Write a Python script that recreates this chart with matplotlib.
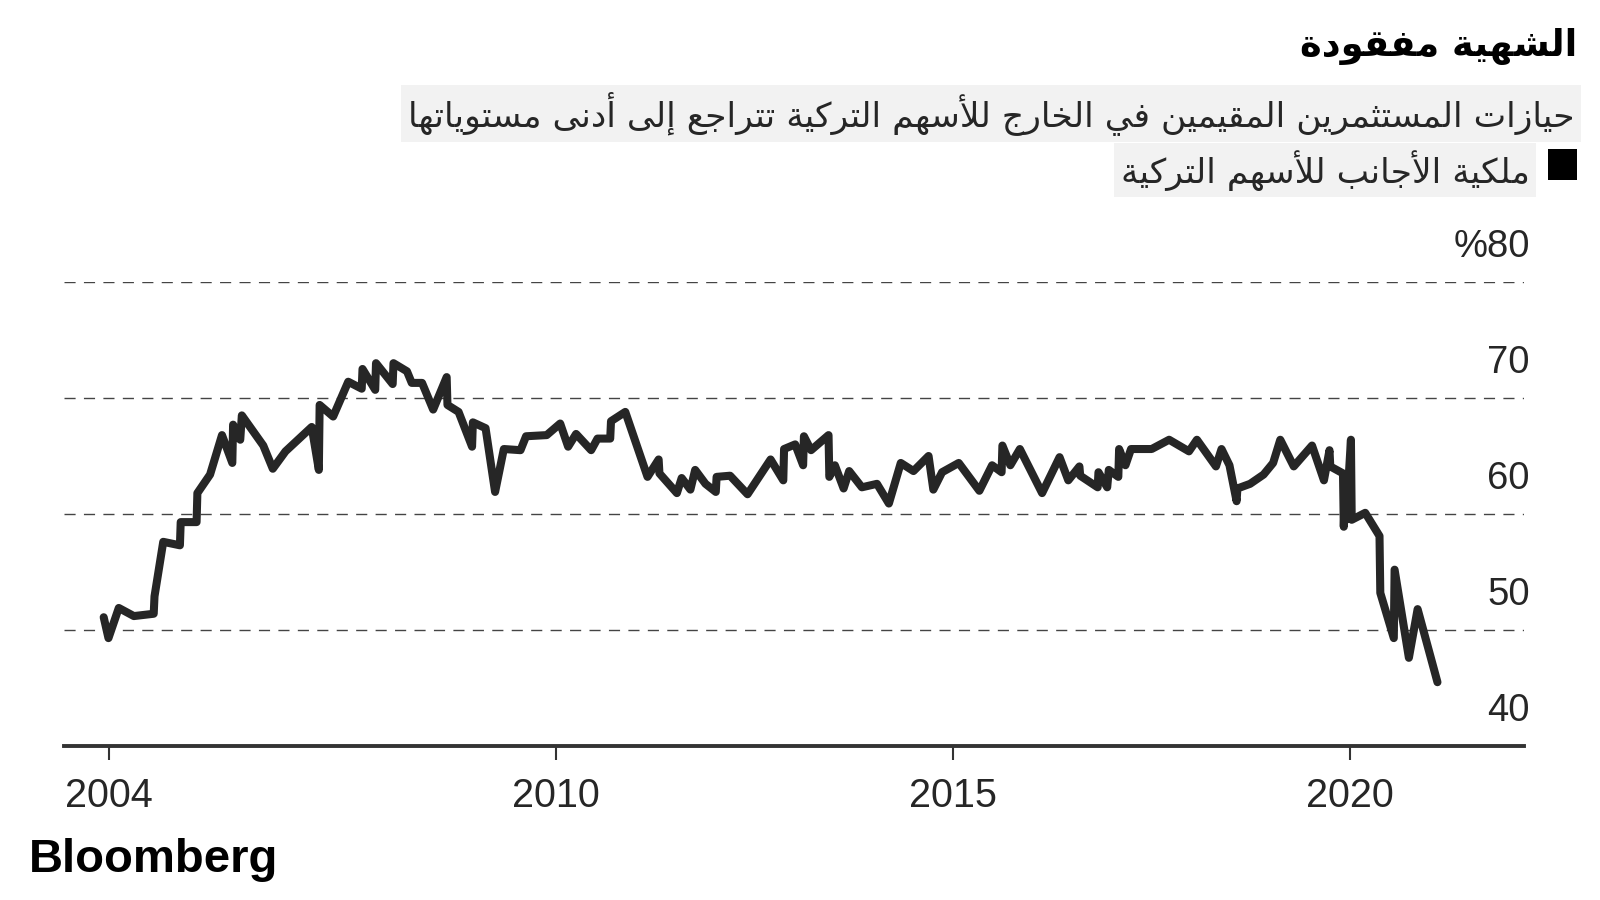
import matplotlib
matplotlib.use("Agg")
import matplotlib.pyplot as plt
from matplotlib.patches import Rectangle

# --- dane ---
years = [
    2004.30, 2004.36, 2004.49, 2004.68, 2004.93, 2004.94, 2005.05, 2005.26, 2005.27, 2005.47,
    2005.48, 2005.64, 2005.79, 2005.92, 2005.93, 2006.02, 2006.04, 2006.31, 2006.43, 2006.59,
    2006.92, 2007.01, 2007.02, 2007.19, 2007.38, 2007.55, 2007.56, 2007.72, 2007.73, 2007.94,
    2007.95, 2008.12, 2008.18, 2008.31, 2008.45, 2008.62, 2008.63, 2008.77, 2008.85, 2008.94,
    2008.95, 2009.11, 2009.23, 2009.34, 2009.55, 2009.62, 2009.88, 2010.05, 2010.15, 2010.25,
    2010.44, 2010.52, 2010.68, 2010.69, 2010.87, 2011.15, 2011.29, 2011.30, 2011.52, 2011.58,
    2011.69, 2011.75, 2011.88, 2012.01, 2012.02, 2012.19, 2012.41, 2012.70, 2012.86, 2012.87,
    2013.01, 2013.11, 2013.12, 2013.21, 2013.43, 2013.44, 2013.51, 2013.62, 2013.69, 2013.85,
    2014.04, 2014.19, 2014.34, 2014.50, 2014.69, 2014.75, 2014.86, 2015.07, 2015.33, 2015.49,
    2015.61, 2015.62, 2015.72, 2015.84, 2016.12, 2016.34, 2016.45, 2016.59, 2016.60, 2016.82,
    2016.83, 2016.94, 2016.96, 2017.08, 2017.09, 2017.17, 2017.24, 2017.50, 2017.72, 2017.97,
    2018.07, 2018.31, 2018.38, 2018.48, 2018.57, 2018.58, 2018.74, 2018.91, 2019.03, 2019.12,
    2019.29, 2019.52, 2019.67, 2019.74, 2019.75, 2019.91, 2019.92, 2019.94, 2019.95, 2020.01,
    2020.02, 2020.19, 2020.37, 2020.38, 2020.55, 2020.56, 2020.74, 2020.85, 2021.10,
]
ownership = [
    51.1, 49.3, 51.9, 51.2, 51.4, 52.9, 57.6, 57.3, 59.3, 59.3,
    61.8, 63.4, 66.8, 64.4, 67.7, 66.4, 68.5, 65.9, 63.9, 65.4,
    67.5, 63.8, 69.4, 68.4, 71.4, 70.8, 72.5, 70.7, 73.0, 71.2,
    73.0, 72.3, 71.3, 71.3, 69.0, 71.8, 69.4, 68.8, 67.4, 65.8,
    67.9, 67.4, 61.9, 65.6, 65.5, 66.7, 66.8, 67.8, 65.8, 66.9,
    65.5, 66.5, 66.5, 68.0, 68.8, 63.2, 64.7, 63.5, 61.8, 63.1,
    62.1, 63.8, 62.6, 61.9, 63.2, 63.3, 61.7, 64.7, 62.9, 65.6,
    66.0, 64.2, 66.7, 65.5, 66.8, 63.2, 64.2, 62.2, 63.7, 62.3,
    62.6, 60.9, 64.4, 63.7, 65.0, 62.1, 63.6, 64.4, 62.0, 64.2,
    63.6, 65.9, 64.2, 65.6, 61.8, 64.9, 62.9, 64.1, 63.3, 62.3,
    63.6, 62.3, 63.8, 63.2, 65.6, 64.2, 65.6, 65.6, 66.4, 65.4,
    66.4, 64.1, 65.6, 64.2, 61.1, 62.2, 62.6, 63.4, 64.4, 66.4,
    64.1, 65.9, 62.9, 65.5, 64.1, 63.5, 58.9, 63.0, 59.5, 66.4,
    59.5, 60.1, 58.1, 53.2, 49.3, 55.2, 47.6, 51.8, 45.5,
]
y_ticks = [40, 50, 60, 70, 80]
y_labels = ["40", "50", "60", "70", "%80"]
x_ticks = [2004.37, 2010, 2015, 2020]
x_labels = ["2004", "2010", "2015", "2020"]

title = "الشهية مفقودة"
subtitle = "حيازات المستثمرين المقيمين في الخارج للأسهم التركية تتراجع إلى أدنى مستوياتها"
legend_label = "ملكية الأجانب للأسهم التركية"

# --- kształtowanie arabskiego (matplotlib nie łączy liter sam) ---
FORMS = {
    "ء": (0xFE80,), "آ": (0xFE81, 0xFE82), "أ": (0xFE83, 0xFE84), "ؤ": (0xFE85, 0xFE86),
    "إ": (0xFE87, 0xFE88), "ئ": (0xFE89, 0xFE8A, 0xFE8B, 0xFE8C), "ا": (0xFE8D, 0xFE8E),
    "ب": (0xFE8F, 0xFE90, 0xFE91, 0xFE92), "ة": (0xFE93, 0xFE94),
    "ت": (0xFE95, 0xFE96, 0xFE97, 0xFE98), "ث": (0xFE99, 0xFE9A, 0xFE9B, 0xFE9C),
    "ج": (0xFE9D, 0xFE9E, 0xFE9F, 0xFEA0), "ح": (0xFEA1, 0xFEA2, 0xFEA3, 0xFEA4),
    "خ": (0xFEA5, 0xFEA6, 0xFEA7, 0xFEA8), "د": (0xFEA9, 0xFEAA), "ذ": (0xFEAB, 0xFEAC),
    "ر": (0xFEAD, 0xFEAE), "ز": (0xFEAF, 0xFEB0),
    "س": (0xFEB1, 0xFEB2, 0xFEB3, 0xFEB4), "ش": (0xFEB5, 0xFEB6, 0xFEB7, 0xFEB8),
    "ص": (0xFEB9, 0xFEBA, 0xFEBB, 0xFEBC), "ض": (0xFEBD, 0xFEBE, 0xFEBF, 0xFEC0),
    "ط": (0xFEC1, 0xFEC2, 0xFEC3, 0xFEC4), "ظ": (0xFEC5, 0xFEC6, 0xFEC7, 0xFEC8),
    "ع": (0xFEC9, 0xFECA, 0xFECB, 0xFECC), "غ": (0xFECD, 0xFECE, 0xFECF, 0xFED0),
    "ف": (0xFED1, 0xFED2, 0xFED3, 0xFED4), "ق": (0xFED5, 0xFED6, 0xFED7, 0xFED8),
    "ك": (0xFED9, 0xFEDA, 0xFEDB, 0xFEDC), "ل": (0xFEDD, 0xFEDE, 0xFEDF, 0xFEE0),
    "م": (0xFEE1, 0xFEE2, 0xFEE3, 0xFEE4), "ن": (0xFEE5, 0xFEE6, 0xFEE7, 0xFEE8),
    "ه": (0xFEE9, 0xFEEA, 0xFEEB, 0xFEEC), "و": (0xFEED, 0xFEEE),
    "ى": (0xFEEF, 0xFEF0), "ي": (0xFEF1, 0xFEF2, 0xFEF3, 0xFEF4),
}
LAM_ALEF = {"آ": (0xFEF5, 0xFEF6), "أ": (0xFEF7, 0xFEF8), "إ": (0xFEF9, 0xFEFA), "ا": (0xFEFB, 0xFEFC)}


def arabic(text):
    tokens = []
    i = 0
    while i < len(text):
        c = text[i]
        if c == "ل" and i + 1 < len(text) and text[i + 1] in LAM_ALEF:
            tokens.append(LAM_ALEF[text[i + 1]])
            i += 2
        else:
            tokens.append(FORMS.get(c, c))
            i += 1
    out = []
    for k, t in enumerate(tokens):
        if isinstance(t, str):
            out.append(t)
            continue
        prev = tokens[k - 1] if k > 0 else None
        nxt = tokens[k + 1] if k + 1 < len(tokens) else None
        j_prev = isinstance(prev, tuple) and len(prev) == 4 and len(t) > 1
        j_next = len(t) == 4 and isinstance(nxt, tuple)
        if j_prev and j_next:
            cp = t[3]
        elif j_prev:
            cp = t[1]
        elif j_next:
            cp = t[2]
        else:
            cp = t[0]
        out.append(chr(cp))
    return "".join(reversed(out))


ARAB = ["DejaVu Sans"]
NUM = ["Liberation Sans", "DejaVu Sans"]
ink = "#262626"

fig = plt.figure(figsize=(16, 9), dpi=100)
fig.patch.set_facecolor("white")
ax = fig.add_axes([0.04, 0.1711, 0.9125, 0.5156])

ax.plot(years, ownership, color=ink, linewidth=5.8, solid_joinstyle="round",
        solid_capstyle="round", zorder=3)

ax.set_xlim(2003.80, 2022.19)
ax.set_ylim(40, 80)

# siatka przerywana
for v in y_ticks[1:]:
    ax.axhline(v, color="#444444", linewidth=1.0, dashes=(8, 6), zorder=1)

for v, lab in zip(y_ticks, y_labels):
    ax.text(1.004, v + 3.0, lab, transform=ax.get_yaxis_transform(), ha="right",
            va="center", fontsize=27.5, family=NUM, color=ink)

ax.set_yticks([])
ax.set_xticks(x_ticks)
ax.set_xticklabels(x_labels, family=NUM, fontsize=28.5, color=ink)
ax.tick_params(axis="x", direction="out", length=10, width=1.5, color="#333333", pad=12)

for s in ["left", "right", "top"]:
    ax.spines[s].set_visible(False)
ax.spines["bottom"].set_color("#333333")
ax.spines["bottom"].set_linewidth(2.8)

# tytuły
fig.text(0.986, 0.948, arabic(title), ha="right", va="center", fontsize=26.5,
         fontweight="bold", family=ARAB, color="black")
fig.text(0.984, 0.874, arabic(subtitle), ha="right", va="center", fontsize=24.8,
         family=ARAB, color=ink,
         bbox=dict(boxstyle="square,pad=0.2", facecolor="#f2f2f2", edgecolor="none"))
fig.text(0.956, 0.811, arabic(legend_label), ha="right", va="center", fontsize=24.8,
         family=ARAB, color=ink,
         bbox=dict(boxstyle="square,pad=0.2", facecolor="#f2f2f2", edgecolor="none"))
fig.add_artist(Rectangle((0.9675, 0.800), 0.018, 0.034, transform=fig.transFigure,
                         facecolor="black", edgecolor="none"))

fig.text(0.018, 0.045, "Bloomberg", ha="left", va="center", fontsize=34,
         fontweight="bold", family=NUM, color="black")

fig.savefig("out.png", dpi=100)
